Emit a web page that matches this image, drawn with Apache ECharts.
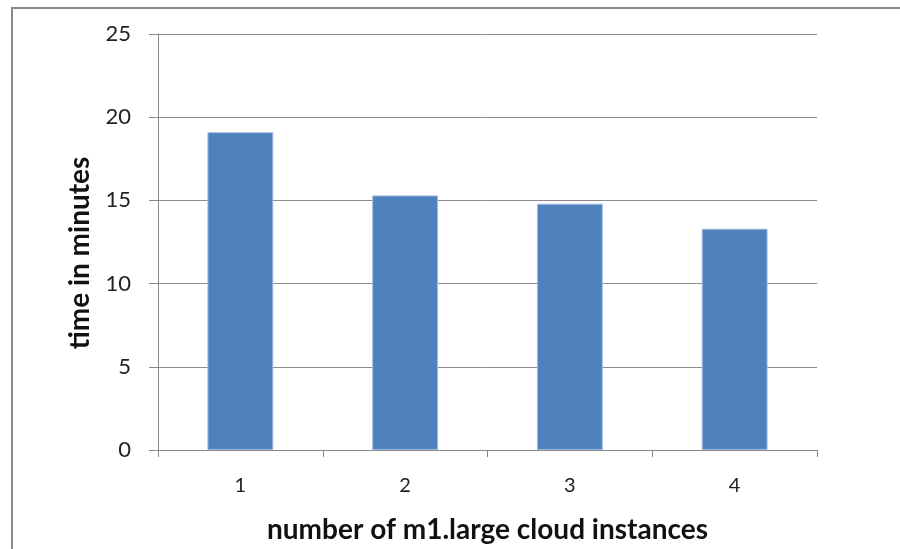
<!DOCTYPE html>
<html>
<head>
<meta charset="utf-8">
<script src="https://cdn.jsdelivr.net/npm/echarts@6/dist/echarts.min.js"></script>
<style>
  html, body { margin: 0; padding: 0; background: #fff; }
  #chart { width: 900px; height: 549px; }
</style>
</head>
<body>
<div id="chart"></div>
<script>
// Run time by number of instances
const instances = ['1', '2', '3', '4'];
const minutes = [19.1, 15.3, 14.8, 13.3];
const yTicks = { min: 0, max: 25, interval: 5 };

const chart = echarts.init(document.getElementById('chart'), null, { renderer: 'canvas' });
const font = 'Lato, "Open Sans", sans-serif';

chart.setOption({
  animation: false,
  backgroundColor: '#fff',
  graphic: [{
    type: 'rect',
    shape: { x: 12, y: 8, width: 1000, height: 700 },
    style: { fill: 'none', stroke: '#8a8a8a', lineWidth: 2 },
    silent: true
  }],
  grid: { left: 158, right: 83, top: 34, bottom: 99 },
  xAxis: {
    type: 'category',
    data: instances,
    name: 'number of m1.large cloud instances',
    nameLocation: 'middle',
    nameGap: 66,
    nameTextStyle: { fontFamily: font, fontSize: 28, fontWeight: 'bold', color: '#111' },
    axisLine: { lineStyle: { color: '#888', width: 1 } },
    axisTick: { show: true, length: 7, lineStyle: { color: '#888' } },
    axisLabel: { fontFamily: font, fontSize: 20, color: '#222', margin: 26 },
    splitLine: { show: false }
  },
  yAxis: {
    type: 'value',
    min: yTicks.min,
    max: yTicks.max,
    interval: yTicks.interval,
    name: 'time in minutes',
    nameLocation: 'middle',
    nameGap: 64,
    nameTextStyle: {
      fontFamily: font, fontSize: 28, fontWeight: 'bold', color: '#111',
      padding: [0, 22, 0, 0]
    },
    axisLine: { show: true, lineStyle: { color: '#888', width: 1 } },
    axisTick: { show: true, length: 9, lineStyle: { color: '#888' } },
    axisLabel: { fontFamily: font, fontSize: 22, color: '#222', margin: 27 },
    splitLine: { lineStyle: { color: '#8c8c8c', width: 1 } }
  },
  series: [{
    type: 'bar',
    data: minutes,
    barWidth: '40%',
    itemStyle: { color: '#4f81bd', borderColor: '#9fbde2', borderWidth: 1 }
  }]
});
</script>
</body>
</html>
